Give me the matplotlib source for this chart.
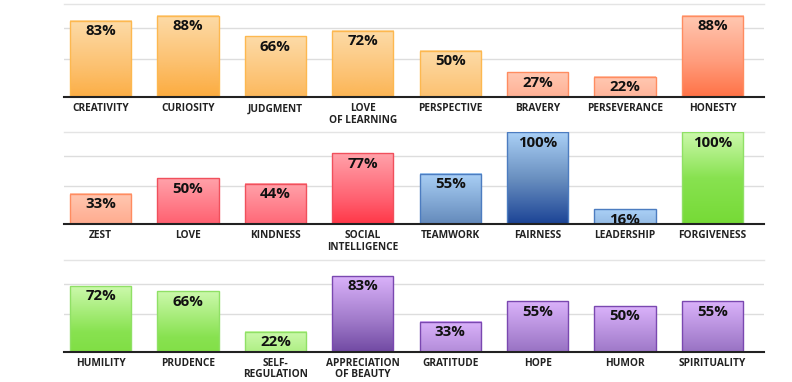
import numpy as np
import matplotlib
matplotlib.use("Agg")
import matplotlib.pyplot as plt
from matplotlib.colors import LinearSegmentedColormap
from matplotlib.patches import Rectangle

plt.rcParams['font.family'] = ['Open Sans', 'DejaVu Sans']

row1_labels = ["CREATIVITY", "CURIOSITY", "JUDGMENT", "LOVE\nOF LEARNING", "PERSPECTIVE",
               "BRAVERY", "PERSEVERANCE", "HONESTY"]
row1_values = [83, 88, 66, 72, 50, 27, 22, 88]
row1_groups = ["orange", "orange", "orange", "orange", "orange", "salmon", "salmon", "salmon"]

row2_labels = ["ZEST", "LOVE", "KINDNESS", "SOCIAL\nINTELLIGENCE", "TEAMWORK",
               "FAIRNESS", "LEADERSHIP", "FORGIVENESS"]
row2_values = [33, 50, 44, 77, 55, 100, 16, 100]
row2_groups = ["salmon", "red", "red", "red", "blue", "blue", "blue", "green"]

row3_labels = ["HUMILITY", "PRUDENCE", "SELF-\nREGULATION", "APPRECIATION\nOF BEAUTY", "GRATITUDE",
               "HOPE", "HUMOR", "SPIRITUALITY"]
row3_values = [72, 66, 22, 83, 33, 55, 50, 55]
row3_groups = ["green", "green", "green", "purple", "purple", "purple", "purple", "purple"]

palettes = {
    "orange": (["#FDDBA8", "#FCC170", "#FCA530"], "#FDB850"),
    "salmon": (["#FFC8B2", "#FF9C7C", "#FF6535"], "#FF8C60"),
    "red":    (["#FFA2AA", "#FF6070", "#FF1525"], "#F0505C"),
    "blue":   (["#AAD0F6", "#6A90C0", "#1C4496"], "#4C7CC0"),
    "green":  (["#CCF9AC", "#88E250", "#76DA36"], "#90E066"),
    "purple": (["#DAB2FA", "#9E78C8", "#5A3290"], "#7A48B0"),
}

W, H = 792, 382
fig = plt.figure(figsize=(W / 100, H / 100), dpi=100)

rows = [
    (row1_labels, row1_values, row1_groups, 4.0, 97.0),
    (row2_labels, row2_values, row2_groups, 131.5, 224.0),
    (row3_labels, row3_values, row3_groups, 259.3, 351.7),
]

YMAX = 101
XL, XR = 64, 764
bw = 0.7
xlo = -0.35 - 6 / 87.4
xhi = xlo + (XR - XL) / 87.4

for labels, values, groups, top, bot in rows:
    ax = fig.add_axes([XL / W, 1 - bot / H, (XR - XL) / W, (bot - top) / H])
    ax.set_xlim(xlo, xhi)
    ax.set_ylim(0, YMAX)
    for s in ["top", "right", "left"]:
        ax.spines[s].set_visible(False)
    ax.spines["bottom"].set_color("#222222")
    ax.spines["bottom"].set_linewidth(1.5)
    ax.spines["bottom"].set_zorder(5)
    for g in [41, 74.5]:
        ax.axhline(g, color="#DDDDDD", lw=1.0, zorder=0)
    ax.axhline(YMAX - 0.3, color="#E4E4E4", lw=1.0, zorder=0, clip_on=False)
    ax.set_yticks([])
    x = np.arange(len(values))
    ax.set_xticks(x)
    ax.set_xticklabels(labels, fontsize=7.3, fontweight="bold", color="#222222",
                       linespacing=1.05)
    ax.tick_params(axis="x", length=0, pad=4.5)
    for xi, v, g in zip(x, values, groups):
        stops, edge = palettes[g]
        cmap = LinearSegmentedColormap.from_list(g, stops)
        depth = np.linspace(0, v / 100.0, 200)  # from top downward
        img = cmap(depth)[:, None, :3]
        ax.imshow(img, extent=[xi - bw / 2, xi + bw / 2, 0, v], origin="upper",
                  aspect="auto", interpolation="bilinear", zorder=2)
        ax.add_patch(Rectangle((xi - bw / 2, 0), bw, v, facecolor="none",
                               edgecolor=edge, lw=1.0, zorder=3))
        ax.text(xi, v - 3.8, f"{v}%", ha="center", va="top", fontsize=10.8,
                fontweight="bold", color="#111111", zorder=4, clip_on=True)
    ax.set_xlim(xlo, xhi)
    ax.set_ylim(0, YMAX)

fig.savefig("out.png", dpi=100)
